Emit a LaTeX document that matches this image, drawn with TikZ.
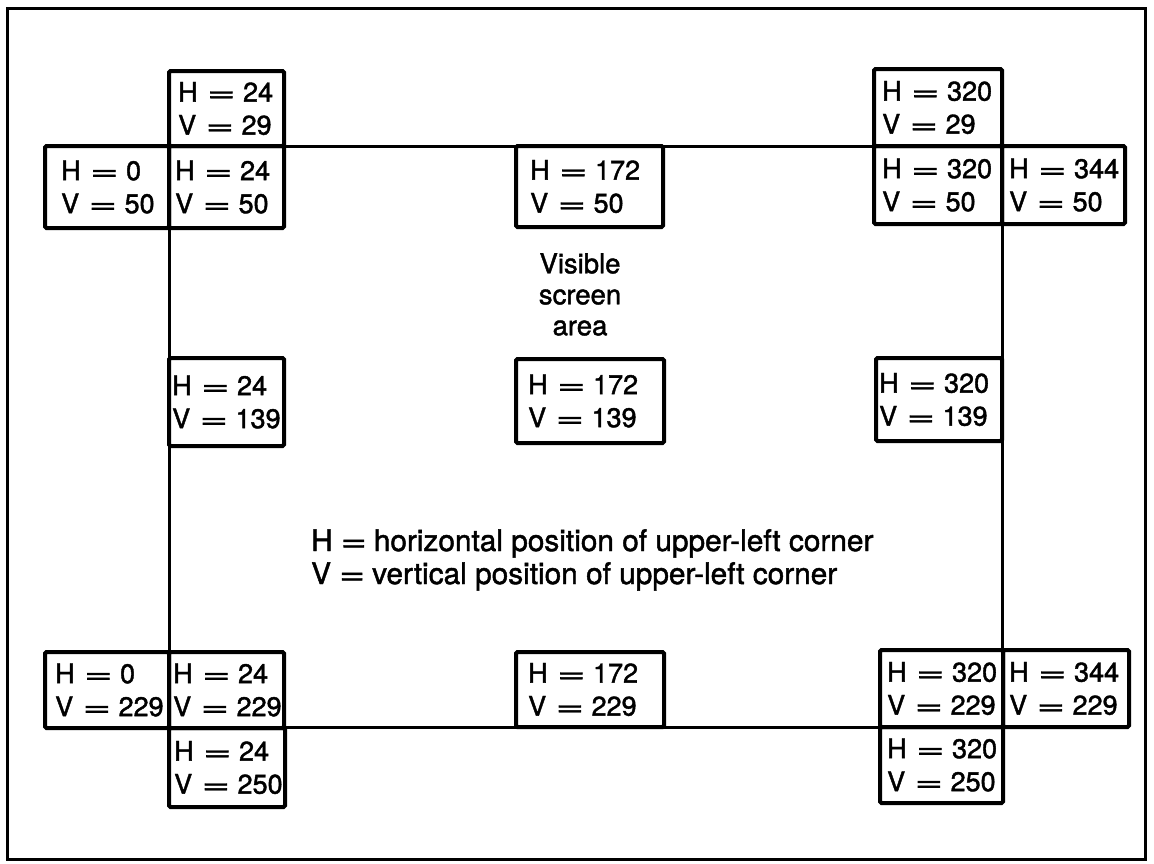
\documentclass[tikz,border=0pt]{standalone}
\usepackage{fontspec}
\setmainfont{TeX Gyre Heros}[FakeBold=1.5]
\newcommand\eqsign{\kern9.5pt\scalebox{1.8}[1]{=}\kern7.5pt}
\newcommand\lgeq{\kern8pt\scalebox{1.5}[1]{=}\kern7pt}
\tikzset{
  frame/.style={draw, line width=3pt},
  screen/.style={draw, line width=3pt},
  cell/.style={draw, line width=4pt, rounded corners=1.5pt, inner sep=0pt, outer sep=0pt},
  celltext/.style={anchor=west, inner sep=0pt, align=left, font=\fontsize{27}{33}\selectfont},
  caption/.style={inner sep=0pt, font=\fontsize{27.5}{31}\selectfont},
  legend/.style={inner sep=0pt, align=left, font=\fontsize{29.8}{33}\selectfont}
}
\newcommand\cellbox[8]{%
  \node[cell, minimum width={(#4-#2)*1pt}, minimum height={(#5-#3)*1pt}] (#1) at ({(#2+#4)/2},{(#3+#5)/2}) {};
  \node[celltext] (#1-t) at ({#6-2},{(#3+#5)/2}) {H\eqsign #7\\V\eqsign #8};
}
\begin{document}
\begin{tikzpicture}[x=1pt,y=-1pt]
\useasboundingbox (0,0) rectangle (1154,863);
% outer frame
\draw[frame] (7,8) rectangle (1145,859);
% visible screen area
\draw[screen] (169,146) rectangle (1002,727);
% top row
\cellbox{t24}{169}{71}{284}{146}{180}{24}{29}
\cellbox{tt320}{874}{69}{1002}{146}{884}{320}{29}
% V = 50 row
\cellbox{la0}{45}{146}{169}{228}{63}{0}{50}
\cellbox{ca24}{169}{146}{284}{228}{177}{24}{50}
\cellbox{ma172}{516}{146}{663}{227}{532}{172}{50}
\cellbox{ca320}{874}{146}{1002}{224}{884}{320}{50}
\cellbox{ra344}{1002}{146}{1125}{224}{1011}{344}{50}
% V = 139 row
\cellbox{cb24}{169}{358}{284}{446}{174}{24}{139}
\cellbox{mb172}{516}{359}{664}{443}{530}{172}{139}
\cellbox{cb320}{876}{358}{1002}{441}{881}{320}{139}
% V = 229 row
\cellbox{lc0}{45}{652}{169}{728}{57}{0}{229}
\cellbox{cc24}{169}{652}{284}{728}{175}{24}{229}
\cellbox{mc172}{516}{652}{664}{727}{530}{172}{229}
\cellbox{cc320}{880}{650}{1003}{727}{889}{320}{229}
\cellbox{rc344}{1003}{650}{1129}{727}{1011}{344}{229}
% V = 250 row
\cellbox{b24}{169}{728}{285}{807}{176}{24}{250}
\cellbox{b320}{880}{727}{1003}{803}{889}{320}{250}
% captions
\node[caption, align=center, anchor=north] (vis) at (580,253) {Visible\\screen\\area};
\node[legend, anchor=north west] (leg) at (311,529) {H\lgeq horizontal position of upper-left corner\\V\lgeq vertical position of upper-left corner};
\end{tikzpicture}
\end{document}
